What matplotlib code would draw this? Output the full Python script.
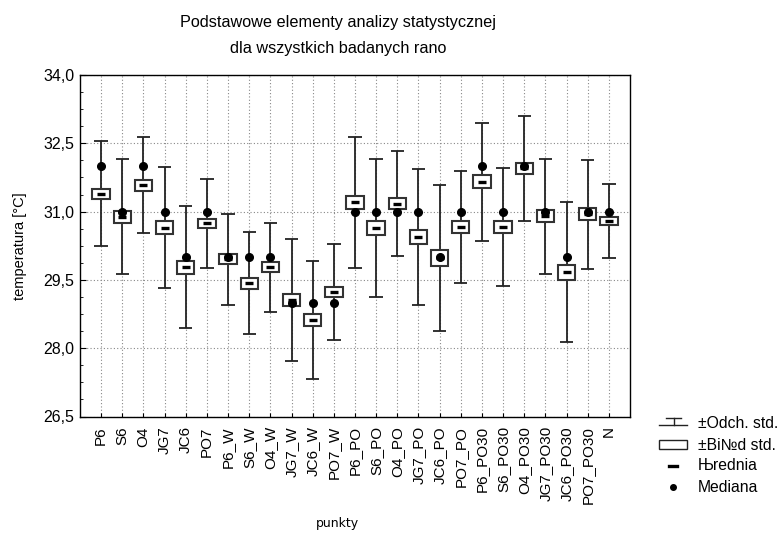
import matplotlib
matplotlib.use("Agg")
import matplotlib.pyplot as plt
from matplotlib.patches import Rectangle
from matplotlib.lines import Line2D
from matplotlib.ticker import FuncFormatter
import numpy as np

plt.rcParams['font.family'] = ['Liberation Sans', 'DejaVu Sans']

labels = ['P6', 'S6', 'O4', 'JG7', 'JC6', 'PO7', 'P6_W', 'S6_W', 'O4_W', 'JG7_W',
          'JC6_W', 'PO7_W', 'P6_PO', 'S6_PO', 'O4_PO', 'JG7_PO', 'JC6_PO', 'PO7_PO',
          'P6_PO30', 'S6_PO30', 'O4_PO30', 'JG7_PO30', 'JC6_PO30', 'PO7_PO30', 'N']
means = [31.39, 30.89, 31.58, 30.65, 29.78, 30.74, 29.95, 29.43, 29.78, 29.06,
         28.62, 29.23, 31.20, 30.64, 31.17, 30.44, 29.98, 30.67, 31.66, 30.67,
         31.95, 30.90, 29.67, 30.94, 30.80]
sds = [1.15, 1.27, 1.06, 1.32, 1.335, 0.985, 1.0, 1.115, 0.98, 1.34,
       1.29, 1.05, 1.44, 1.505, 1.15, 1.495, 1.595, 1.23, 1.295, 1.295,
       1.16, 1.26, 1.54, 1.2, 0.81]
ses = [0.117, 0.13, 0.117, 0.14, 0.14, 0.10, 0.11, 0.12, 0.11, 0.14,
       0.135, 0.11, 0.15, 0.15, 0.12, 0.15, 0.17, 0.13, 0.14, 0.13,
       0.125, 0.135, 0.165, 0.13, 0.09]
medians = [32, 31, 32, 31, 30, 31, 30, 30, 30, 29,
           29, 29, 31, 31, 31, 31, 30, 31, 32, 31,
           32, 31, 30, 31, 31]
yticks = [26.5, 28.0, 29.5, 31.0, 32.5, 34.0]

fig = plt.figure(figsize=(7.81, 5.36), dpi=100)
ax = fig.add_axes([80/781, 1 - 416.5/536, 550/781, 341.5/536])

x = np.arange(1, len(labels) + 1)
m = np.array(means)
s = np.array(sds)
se = np.array(ses)

box_w = 0.82
cap_w = 0.63
dash_w = 0.38

# whiskers (+-SD)
ax.vlines(x, m - s, m + s, color='#222222', lw=1.3, zorder=2)
ax.hlines(m + s, x - cap_w/2, x + cap_w/2, color='#222222', lw=1.3, zorder=2)
ax.hlines(m - s, x - cap_w/2, x + cap_w/2, color='#222222', lw=1.3, zorder=2)

# boxes (+-SE)
for xi, mi, ei in zip(x, m, se):
    ax.add_patch(Rectangle((xi - box_w/2, mi - ei), box_w, 2*ei,
                           facecolor='white', edgecolor='#333333', lw=1.5, zorder=3))

# means
ax.hlines(m, x - dash_w/2, x + dash_w/2, color='black', lw=2.4, zorder=4)
# medians
ax.plot(x, medians, 'o', color='black', markersize=5.5, zorder=5)

ax.set_xlim(0, len(labels) + 1)
ax.set_ylim(26.5, 34.0)
ax.set_xticks(x)
ax.set_xticklabels(labels, rotation=90, fontsize=11)
ax.set_yticks(yticks)
ax.set_yticks(np.arange(26.5, 34.01, 0.375), minor=True)
ax.yaxis.set_major_formatter(FuncFormatter(lambda v, p: f'{v:.1f}'.replace('.', ',')))
ax.tick_params(axis='y', which='major', direction='in', length=4, labelsize=11.5, pad=4)
ax.tick_params(axis='y', which='minor', direction='in', length=2)
ax.tick_params(axis='x', direction='in', length=3, pad=7)
ax.grid(True, which='major', color='#888888', linestyle=(0, (1, 2)), lw=0.8)
ax.set_axisbelow(True)
for sp in ax.spines.values():
    sp.set_linewidth(1.0)

ax.set_ylabel('temperatura [°C]', fontsize=10.5, labelpad=12)

fig.text(338/781, 1 - 23/536, 'Podstawowe elementy analizy statystycznej',
         ha='center', va='center', fontsize=11.7)
fig.text(338/781, 1 - 48/536, 'dla wszystkich badanych rano',
         ha='center', va='center', fontsize=11.7)
fig.text(337/781, 1 - 524/536, 'punkty', ha='center', va='center',
         fontsize=9, family=['DejaVu Sans'])

# legend drawn by hand in pixel coordinates
lg = fig.add_axes([0, 0, 1, 1], facecolor='none')
lg.set_xlim(0, 781)
lg.set_ylim(536, 0)
lg.axis('off')
lc = '#222222'
lg.add_line(Line2D([659, 687], [425, 425], color=lc, lw=1))
lg.add_line(Line2D([666, 681], [418, 418], color=lc, lw=1))
lg.add_line(Line2D([673.5, 673.5], [418, 425], color=lc, lw=1))
lg.add_patch(Rectangle((659, 440), 28, 9, facecolor='white', edgecolor=lc, lw=1))
lg.add_line(Line2D([669, 677], [466, 466], color='black', lw=2.4))
lg.plot([673], [487], 'o', color='black', markersize=4)
legend_texts = ['±Odch. std.', '±Bі№d std.', 'Њrednia', 'Mediana']
for i, t in enumerate(legend_texts):
    lg.text(698, 424 + i*21, t, ha='left', va='center', fontsize=11.3)

fig.savefig('out.png', dpi=100)
